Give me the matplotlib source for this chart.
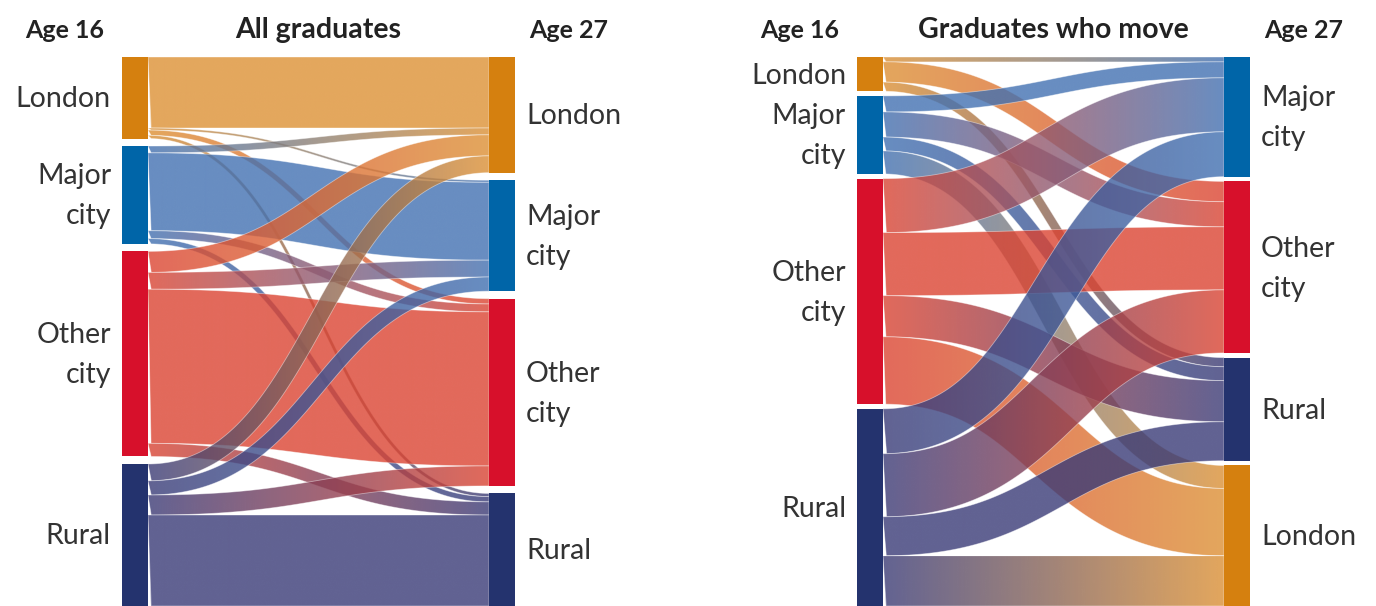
import numpy as np
import matplotlib.pyplot as plt
from matplotlib.path import Path
from matplotlib.patches import PathPatch, Rectangle
from matplotlib.colors import to_rgb

plt.rcParams['font.family'] = ['Lato', 'DejaVu Sans']

regions = ["London", "Major city", "Other city", "Rural"]
node_colors = ["#d5800f", "#0065a8", "#d7102b", "#24336e"]
link_colors = ["#dd9135", "#4271b2", "#db4432", "#3a3b77"]

# share of graduates (%), row = area at 16, column = area at 27 (same order as regions)
all_graduates = [
    [13.5, 0.4, 1.0, 0.6],
    [1.3, 14.8, 1.5, 1.0],
    [4.0, 3.2, 29.3, 2.5],
    [3.2, 2.7, 3.8, 17.3],
]
movers = [
    [0.0, 0.9, 3.8, 1.7],
    [4.3, 3.0, 4.7, 2.6],
    [12.6, 10.1, 11.8, 7.7],
    [9.4, 8.4, 11.8, 7.3],
]
order_16 = ["London", "Major city", "Other city", "Rural"]
all_order_27 = ["London", "Major city", "Other city", "Rural"]
movers_order_27 = ["Major city", "Other city", "Rural", "London"]

LINK_ALPHA = 0.8
TEXT = "#333333"


def band_polygon(x0, y0, x1, y1, w, n=160):
    # cubic link with horizontal tangents, offset along the normal like a stroke
    xm = (x0 + x1) / 2
    t = np.linspace(0, 1, n)[:, None]
    p0, p1, p2, p3 = map(np.array, ([x0, y0], [xm, y0], [xm, y1], [x1, y1]))
    c = (1 - t)**3 * p0 + 3 * (1 - t)**2 * t * p1 + 3 * (1 - t) * t**2 * p2 + t**3 * p3
    d = 3 * (1 - t)**2 * (p1 - p0) + 6 * (1 - t) * t * (p2 - p1) + 3 * t**2 * (p3 - p2)
    d = d / np.linalg.norm(d, axis=1)[:, None]
    nrm = np.column_stack([-d[:, 1], d[:, 0]])
    upper = c - nrm * w / 2
    lower = c + nrm * w / 2
    return np.vstack([upper, lower[::-1]])


def draw_label(ax, text, x, yc, ha):
    lines = text.split(" ")
    for i, line in enumerate(lines):
        yb = yc + 9.5 + (i - (len(lines) - 1) / 2) * 40
        ax.text(x, yb, line, ha=ha, va="baseline", fontsize=20.5, color=TEXT)


def draw_sankey(ax, flows, right_order, xl, xr, title, pad):
    node_w = 26
    top, bottom = 57, 606
    out_tot = [sum(row) for row in flows]
    in_tot = [sum(flows[i][regions.index(r)] for i in range(4)) for r in right_order]
    k = min((bottom - top - pad * 3) / sum(out_tot), (bottom - top - pad * 3) / sum(in_tot))

    def stack(totals):
        ys, y = [], top
        for v in totals:
            ys.append(y)
            y += v * k + pad
        return ys

    left_y = stack(out_tot)
    right_y = stack(in_tot)

    # where each link leaves / enters its node
    out_off = list(left_y)
    in_off = list(right_y)
    links = []
    for i, src in enumerate(order_16):
        for r in right_order:
            v = flows[i][regions.index(r)]
            if v <= 0:
                continue
            j = right_order.index(r)
            links.append([i, j, v, out_off[i]])
            out_off[i] += v * k
    for j, r in enumerate(right_order):
        for lk in links:
            if lk[1] == j:
                lk.append(in_off[j])
                in_off[j] += lk[2] * k

    x0, x1 = xl + node_w, xr
    for n_, (i, j, v, ys, yt) in enumerate(links):
        w = v * k
        poly = band_polygon(x0, ys + w / 2, x1, yt + w / 2, w)
        patch = PathPatch(Path(poly, closed=True), facecolor="none",
                          edgecolor=(1, 1, 1, 0.45), lw=0.6, zorder=1 + n_ * 0.01 + 0.005)
        ax.add_patch(patch)
        c0 = np.array(to_rgb(link_colors[i]))
        c1 = np.array(to_rgb(link_colors[regions.index(right_order[j])]))
        s = np.linspace(0, 1, 256)[:, None]
        grad = np.ones((1, 256, 4))
        grad[0, :, :3] = c0 * (1 - s) + c1 * s
        grad[0, :, 3] = LINK_ALPHA
        im = ax.imshow(grad, extent=(x0 - 3, x1 + 3, poly[:, 1].max() + 1, poly[:, 1].min() - 1),
                       aspect="auto", interpolation="bilinear", zorder=1 + n_ * 0.01)
        im.set_clip_path(patch)

    for i, r in enumerate(order_16):
        h = out_tot[i] * k
        ax.add_patch(Rectangle((xl, left_y[i]), node_w, h,
                               color=node_colors[regions.index(r)], lw=0, zorder=5))
        draw_label(ax, r, xl - 11, left_y[i] + h / 2, "right")
    for j, r in enumerate(right_order):
        h = in_tot[j] * k
        ax.add_patch(Rectangle((xr, right_y[j]), node_w, h,
                               color=node_colors[regions.index(r)], lw=0, zorder=5))
        draw_label(ax, r, xr + node_w + 11, right_y[j] + h / 2, "left")

    hd = dict(fontweight="bold", color="#222222", va="baseline")
    ax.text(xl - 18, 38, "Age 16", ha="right", fontsize=18, **hd)
    ax.text((x0 + x1) / 2, 38, title, ha="center", fontsize=20.5, **hd)
    ax.text(xr + node_w + 14, 38, "Age 27", ha="left", fontsize=18, **hd)


fig = plt.figure(figsize=(13.76, 6.06), dpi=100)
ax = fig.add_axes([0, 0, 1, 1])
ax.set_xlim(0, 1376)
ax.set_ylim(606, 0)
ax.axis("off")

draw_sankey(ax, all_graduates, all_order_27, 122, 489, "All graduates", pad=7.5)
draw_sankey(ax, movers, movers_order_27, 857, 1224, "Graduates who move", pad=4.7)

fig.savefig("out.png", dpi=100)
